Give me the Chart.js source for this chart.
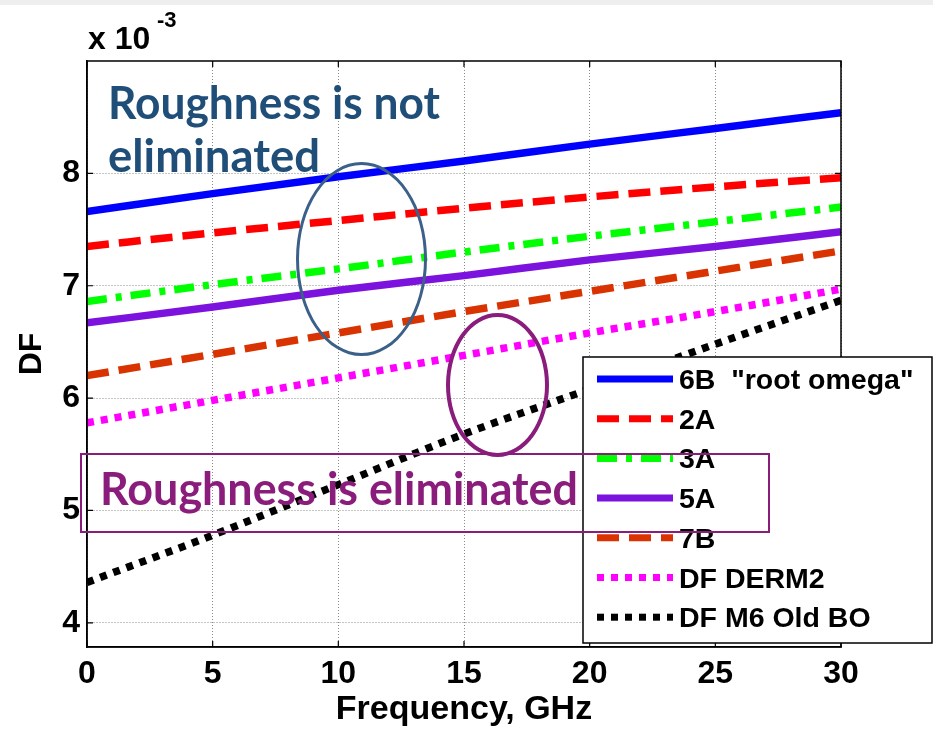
<!DOCTYPE html>
<html>
<head>
<meta charset="utf-8">
<script src="https://cdn.jsdelivr.net/npm/chart.js@4.4.1/dist/chart.umd.min.js"></script>
<style>
  html, body { margin: 0; padding: 0; background: #ffffff; }
  #wrap { position: relative; width: 933px; height: 729px; overflow: hidden; background: #ffffff; }
  #topband { position: absolute; left: 0; top: 0; width: 933px; height: 5px; background: #eeeeee; }
  canvas { position: absolute; left: 0; top: 0; }
  .ov { position: absolute; white-space: nowrap; }
  .calib { font-family: Lato, "Open Sans", sans-serif; font-weight: bold; transform-origin: 0 0; line-height: 1; }
  .arial { font-family: "Liberation Sans", Arial, sans-serif; font-weight: bold; color: #000; line-height: 1; }
</style>
</head>
<body>
<div id="wrap">
  <div id="topband"></div>
  <canvas id="c" width="933" height="729"></canvas>
  <div class="ov arial" id="mult" style="left:88px; top:22px; font-size:32px;">x 10</div>
  <div class="ov arial" id="expo" style="left:157px; top:9px; font-size:22px;">-3</div>
  <div class="ov calib" id="t1a" style="left:108px; top:79px; font-size:46px; color:#1F4E79;">Roughness is not</div>
  <div class="ov calib" id="t1b" style="left:108px; top:132px; font-size:46px; color:#1F4E79;">eliminated</div>
  <div class="ov" id="ell1" style="left:296px; top:162px; width:125px; height:188px; border:3.5px solid #3B6089; border-radius:50%;"></div>
  <div class="ov" id="ell2" style="left:446px; top:313px; width:95px; height:136px; border:4px solid #8A1C7C; border-radius:50%;"></div>
  <div class="ov" id="rect" style="left:80px; top:453px; width:686px; height:76px; border:2px solid #8A1C7C;"></div>
  <div class="ov calib" id="t2" style="left:100px; top:465px; font-size:46px; color:#8A1C7C;">Roughness is eliminated</div>
</div>
<script>
// ---- data ----
const freqGHz = [0, 5, 10, 15, 20, 25, 30];
const df6B = [7.66, 7.82, 7.97, 8.11, 8.26, 8.40, 8.54];
const df2A = [7.35, 7.47, 7.58, 7.69, 7.79, 7.88, 7.96];
const df3A = [6.86, 7.01, 7.15, 7.30, 7.44, 7.57, 7.70];
const df5A = [6.67, 6.81, 6.96, 7.09, 7.23, 7.35, 7.48];
const df7B = [6.20, 6.39, 6.58, 6.77, 6.95, 7.13, 7.31];
const dfDERM2 = [5.78, 5.98, 6.18, 6.38, 6.58, 6.77, 6.97];
const dfM6OldBO = [4.36, 4.78, 5.23, 5.68, 6.08, 6.48, 6.87];
const seriesLabels = ['6B  "root omega"', '2A', '3A', '5A', '7B', 'DF DERM2', 'DF M6 Old BO'];
const xTicks = [0, 5, 10, 15, 20, 25, 30];
const yTicks = [4, 5, 6, 7, 8];

const pts = arr => freqGHz.map((x, i) => ({ x: x, y: arr[i] }));

const styles = [
  { c: '#0000FF', d: [] },
  { c: '#FF0000', d: [22, 10] },
  { c: '#00FF00', d: [20, 9, 6, 9] },
  { c: '#7B12DD', d: [] },
  { c: '#D83300', d: [22, 10] },
  { c: '#FF00FF', d: [7, 7] },
  { c: '#000000', d: [7, 7] }
];
const allSeries = [df6B, df2A, df3A, df5A, df7B, dfDERM2, dfM6OldBO];

const datasets = allSeries.map((arr, i) => ({
  label: seriesLabels[i],
  data: pts(arr),
  borderColor: styles[i].c,
  backgroundColor: styles[i].c,
  borderDash: styles[i].d,
  borderWidth: 7.5,
  borderCapStyle: 'butt',
  pointRadius: 0,
  cubicInterpolationMode: 'monotone',
  fill: false
}));

const FONT = '"Liberation Sans", Arial, sans-serif';

const boxPlugin = {
  id: 'boxPlugin',
  afterDraw(chart) {
    const ctx = chart.ctx;
    const a = chart.chartArea;
    const xs = chart.scales.x, ys = chart.scales.y;
    ctx.save();
    ctx.strokeStyle = '#000';
    ctx.lineWidth = 1.5;
    ctx.strokeRect(a.left, a.top, a.right - a.left, a.bottom - a.top);
    // inward tick marks
    ctx.beginPath();
    ctx.lineWidth = 1.2;
    xTicks.forEach(v => {
      const px = xs.getPixelForValue(v);
      ctx.moveTo(px, a.bottom); ctx.lineTo(px, a.bottom - 6);
      ctx.moveTo(px, a.top); ctx.lineTo(px, a.top + 6);
    });
    yTicks.forEach(v => {
      const py = ys.getPixelForValue(v);
      ctx.moveTo(a.left, py); ctx.lineTo(a.left + 6, py);
      ctx.moveTo(a.right, py); ctx.lineTo(a.right - 6, py);
    });
    ctx.stroke();
    // legend
    const lx = 583, ly = 357, lw = 349, lh = 286;
    ctx.fillStyle = '#fff';
    ctx.fillRect(lx, ly, lw, lh);
    ctx.lineWidth = 1.5;
    ctx.strokeStyle = '#000';
    ctx.strokeRect(lx, ly, lw, lh);
    ctx.font = 'bold 28.5px ' + FONT;
    ctx.textBaseline = 'alphabetic';
    ctx.textAlign = 'left';
    chart.data.datasets.forEach((ds, i) => {
      const cy = 379 + i * 39.7;
      ctx.beginPath();
      ctx.setLineDash(ds.borderDash || []);
      ctx.lineCap = 'butt';
      ctx.lineWidth = 7;
      ctx.strokeStyle = ds.borderColor;
      ctx.moveTo(597, cy);
      ctx.lineTo(673, cy);
      ctx.stroke();
      ctx.setLineDash([]);
      ctx.fillStyle = '#000';
      ctx.fillText(ds.label, 679, cy + 10);
    });
    ctx.restore();
  }
};

new Chart(document.getElementById('c'), {
  type: 'line',
  data: { datasets: datasets },
  options: {
    responsive: false,
    animation: false,
    devicePixelRatio: 1,
    layout: { padding: { left: 0, right: 92, top: 61, bottom: 0 } },
    plugins: { legend: { display: false }, tooltip: { enabled: false } },
    scales: {
      x: {
        type: 'linear',
        min: 0, max: 30,
        afterBuildTicks: s => { s.ticks = xTicks.map(v => ({ value: v })); },
        afterFit: s => { s.height = 82; },
        ticks: { color: '#000', font: { family: FONT, size: 32, weight: 'bold' }, padding: 8, maxRotation: 0 },
        grid: { color: '#8a8a8a', lineWidth: 1, drawTicks: false },
        border: { display: true, color: '#000', width: 1.5, dash: [1, 2] },
        title: { display: true, text: 'Frequency, GHz', color: '#000', font: { family: FONT, size: 34, weight: 'bold' }, padding: { top: 0, bottom: -1 } }
      },
      y: {
        type: 'linear',
        min: 3.785, max: 9.0,
        afterBuildTicks: s => { s.ticks = yTicks.map(v => ({ value: v })); },
        afterFit: s => { s.width = 87; },
        ticks: { color: '#000', font: { family: FONT, size: 32, weight: 'bold' }, padding: 7 },
        grid: { color: '#8a8a8a', lineWidth: 1, drawTicks: false },
        border: { display: true, color: '#000', width: 1.5, dash: [1, 2] },
        title: { display: true, text: 'DF', color: '#000', font: { family: FONT, size: 32, weight: 'bold' }, padding: { top: 13, bottom: 0 } }
      }
    }
  },
  plugins: [boxPlugin]
});

// fit annotation text widths to the reference
function fitW(id, w) {
  const el = document.getElementById(id);
  const cur = el.getBoundingClientRect().width;
  if (cur > 0) el.style.transform = 'scaleX(' + (w / cur) + ')';
}
fitW('t1a', 332);
fitW('t1b', 212);
fitW('t2', 478);
</script>
</body>
</html>
